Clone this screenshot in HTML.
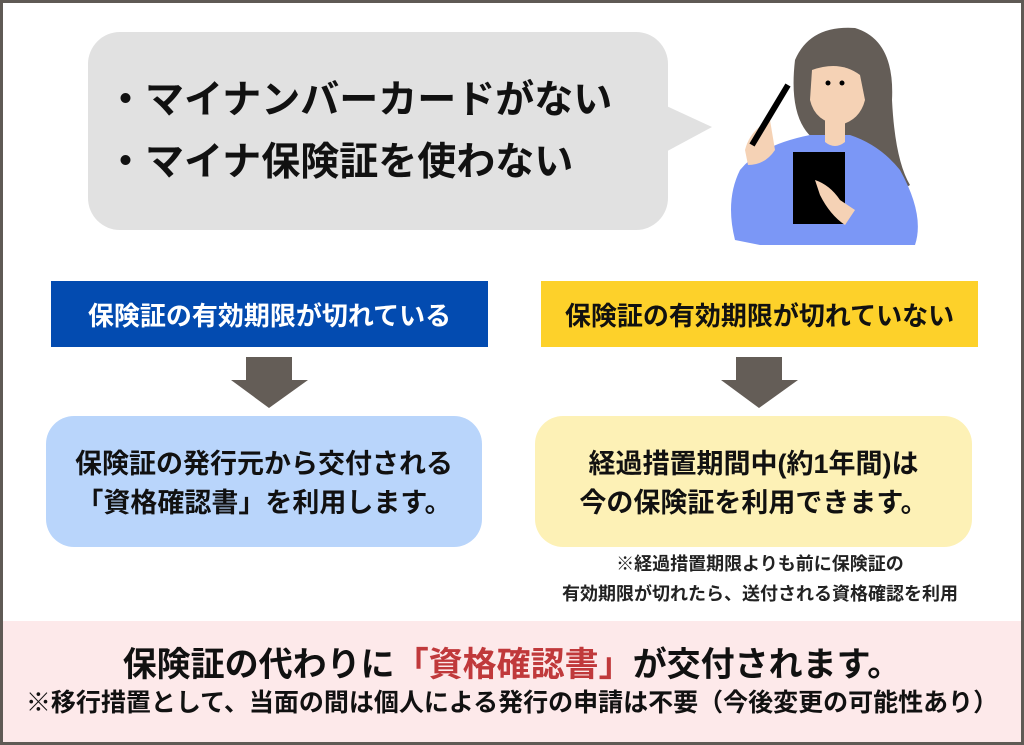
<!DOCTYPE html>
<html><head><meta charset="utf-8"><style>
*{margin:0;padding:0;box-sizing:border-box}
body{width:1024px;height:745px;position:relative;background:#fff;font-family:"Liberation Sans","Noto Sans CJK JP",sans-serif;font-weight:bold;overflow:hidden}
.frame{position:absolute;left:0;top:0;width:1024px;height:745px;border:3px solid #5f5a55;}
.a{position:absolute}
.c{display:flex;align-items:center;justify-content:center;text-align:center;white-space:nowrap}
</style></head><body>
<div class="a" style="left:2px;top:621px;width:1020px;height:122px;background:#fde9ea"></div>
<div class="a" style="left:88px;top:32px;width:580px;height:198px;background:#e1e1e1;border-radius:32px"></div>
<svg class="a" style="left:660px;top:95px" width="60" height="70"><polygon points="0,8 52,32 0,60" fill="#e1e1e1"/></svg>
<div class="a" style="left:106px;top:70px;font-size:39px;line-height:62px;color:#111;white-space:nowrap">・マイナンバーカードがない<br>・マイナ保険証を使わない</div>

<svg class="a" style="left:730px;top:20px" width="200" height="230" viewBox="0 0 200 230">
<path d="M65 40 Q80 5 125 8 Q165 20 162 80 Q165 140 180 165 L140 190 L110 180 L85 120 Q58 100 65 40Z" fill="#645d57"/>
<path d="M5 220 Q-5 180 10 150 Q30 125 80 115 L120 115 Q150 125 170 150 Q195 195 185 225 L30 225Z" fill="#7b97f6"/>
<path d="M82 50 Q110 40 130 55 L135 80 Q130 100 110 105 Q85 102 80 80Z" fill="#f5d2b5"/>
<path d="M95 100 L115 100 L115 122 Q105 130 95 122Z" fill="#f5d2b5"/>
<rect x="63" y="132" width="52" height="72" fill="#000"/>
<path d="M15 130 Q20 110 40 100 L45 130 Q35 145 18 145Z" fill="#f5d2b5"/>
<line x1="22" y1="125" x2="58" y2="65" stroke="#000" stroke-width="6"/>
<path d="M85 160 Q100 165 110 180 L125 190 L115 205 Q100 195 90 175Z" fill="#f5d2b5"/>
<circle cx="98" cy="63" r="2.5"/><circle cx="112" cy="63" r="2.5"/>
</svg>

<div class="a c" style="left:51px;top:281px;width:437px;height:66px;background:#034bb0;color:#fff;font-size:26px">保険証の有効期限が切れている</div>
<div class="a c" style="left:541px;top:281px;width:437px;height:66px;background:#fdd12a;color:#111;font-size:26px">保険証の有効期限が切れていない</div>

<svg class="a" style="left:230px;top:357px" width="80" height="52"><polygon points="16,0 62,0 62,23 78,23 39,51 1,23 16,23" fill="#645d57"/></svg>
<svg class="a" style="left:720px;top:357px" width="80" height="52"><polygon points="16,0 62,0 62,23 78,23 39,51 1,23 16,23" fill="#645d57"/></svg>

<div class="a c" style="left:46px;top:416px;width:436px;height:131px;background:#b9d5fb;border-radius:28px;font-size:27px;line-height:39px;color:#111;padding-top:4px">保険証の発行元から交付される<br>「資格確認書」を利用します。</div>
<div class="a c" style="left:535px;top:416px;width:437px;height:131px;background:#fdf1b6;border-radius:28px;font-size:27px;line-height:39px;color:#111;padding-top:4px">経過措置期間中(約1年間)は<br>今の保険証を利用できます。</div>

<div class="a c" style="left:535px;top:549px;width:450px;font-size:18px;line-height:30px;color:#222">※経過措置期限よりも前に保険証の<br>有効期限が切れたら、送付される資格確認を利用</div>

<div class="a c" style="left:0;top:642px;width:1024px;font-size:34px;line-height:46px;color:#111">保険証の代わりに<span style="color:#c0393b">「資格確認書」</span>が交付されます。</div>
<div class="a c" style="left:0;top:686px;width:1024px;font-size:25px;line-height:34px;color:#111">※移行措置として、当面の間は個人による発行の申請は不要（今後変更の可能性あり）</div>
<div class="frame"></div>
</body></html>
